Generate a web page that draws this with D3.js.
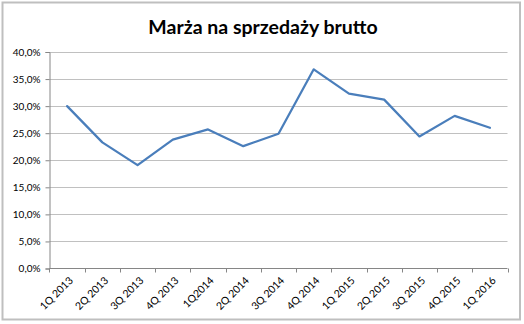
<!DOCTYPE html>
<html>
<head>
<meta charset="utf-8">
<script src="https://cdn.jsdelivr.net/npm/d3@7"></script>
<style>
  body { margin: 0; background: #fff; }
  text { font-family: Lato, "Open Sans", sans-serif; fill: #000; }
</style>
</head>
<body>
<svg id="chart"></svg>
<script>
var quarters = ["1Q 2013", "2Q 2013", "3Q 2013", "4Q 2013", "1Q2014", "2Q 2014", "3Q 2014",
  "4Q 2014", "1Q 2015", "2Q 2015", "3Q 2015", "4Q 2015", "1Q 2016"];
var margin = [30.0, 23.3, 19.1, 23.8, 25.7, 22.6, 24.9, 36.8, 32.3, 31.2, 24.4, 28.2, 26.0];
var yTicks = [0, 5, 10, 15, 20, 25, 30, 35, 40];

var width = 524, height = 324;
var plotLeft = 49.5, plotRight = 507.5, plotTop = 52, plotBottom = 268.5;

var svg = d3.select("#chart").attr("width", width).attr("height", height);

// chart frame
svg.append("rect").attr("x", 2.5).attr("y", 2.5).attr("width", 517.5).attr("height", 317)
  .attr("fill", "#fff").attr("stroke", "#bfbfbf").attr("stroke-width", 2);

svg.append("text").attr("x", 263).attr("y", 34).attr("text-anchor", "middle")
  .style("font-size", "19.5px").style("font-weight", "bold")
  .text("Marża na sprzedaży brutto");

var x = d3.scaleBand().domain(quarters).range([plotLeft, plotRight]);
var y = d3.scaleLinear().domain([0, 40]).range([plotBottom, plotTop]);

// gridlines
svg.append("g").selectAll("line").data(yTicks.slice(1)).enter().append("line")
  .attr("x1", plotLeft).attr("x2", plotRight)
  .attr("y1", function (d) { return Math.round(y(d)) + 0.5; })
  .attr("y2", function (d) { return Math.round(y(d)) + 0.5; })
  .attr("stroke", "#c0c0c0").attr("stroke-width", 1);

// y axis
var yAxis = svg.append("g").attr("transform", "translate(" + plotLeft + ",0)")
  .call(d3.axisLeft(y).tickValues(yTicks).tickSize(4).tickPadding(5)
    .tickFormat(function (d) { return d.toFixed(1).replace(".", ",") + "%"; }));
yAxis.select(".domain").attr("stroke", "#868686");
yAxis.selectAll(".tick line").attr("stroke", "#868686");
yAxis.selectAll(".tick text").style("font-size", "10px").attr("fill", "#000")
  .style("font-family", "Lato, 'Open Sans', sans-serif");

// x axis: ticks at category boundaries
var xg = svg.append("g");
xg.append("line").attr("x1", plotLeft).attr("x2", plotRight).attr("y1", plotBottom).attr("y2", plotBottom)
  .attr("stroke", "#868686");
var bounds = quarters.map(function (q) { return x(q); }).concat([plotRight]);
xg.selectAll("line.tk").data(bounds).enter().append("line").attr("class", "tk")
  .attr("x1", function (d) { return Math.round(d) + 0.5; })
  .attr("x2", function (d) { return Math.round(d) + 0.5; })
  .attr("y1", plotBottom).attr("y2", plotBottom + 4).attr("stroke", "#868686");
xg.selectAll("text").data(quarters).enter().append("text")
  .attr("transform", function (d) {
    return "translate(" + (x(d) + x.bandwidth() / 2 + 4) + "," + (plotBottom + 10) + ") rotate(-45)";
  })
  .attr("text-anchor", "end").attr("dy", "0.35em")
  .style("font-size", "10.5px")
  .text(function (d) { return d; });

// series
var line = d3.line()
  .x(function (d, i) { return x(quarters[i]) + x.bandwidth() / 2; })
  .y(function (d) { return y(d); });
svg.append("path").datum(margin).attr("d", line)
  .attr("fill", "none").attr("stroke", "#4a7ebb").attr("stroke-width", 2.25)
  .attr("stroke-linejoin", "round").attr("stroke-linecap", "round");
</script>
</body>
</html>
